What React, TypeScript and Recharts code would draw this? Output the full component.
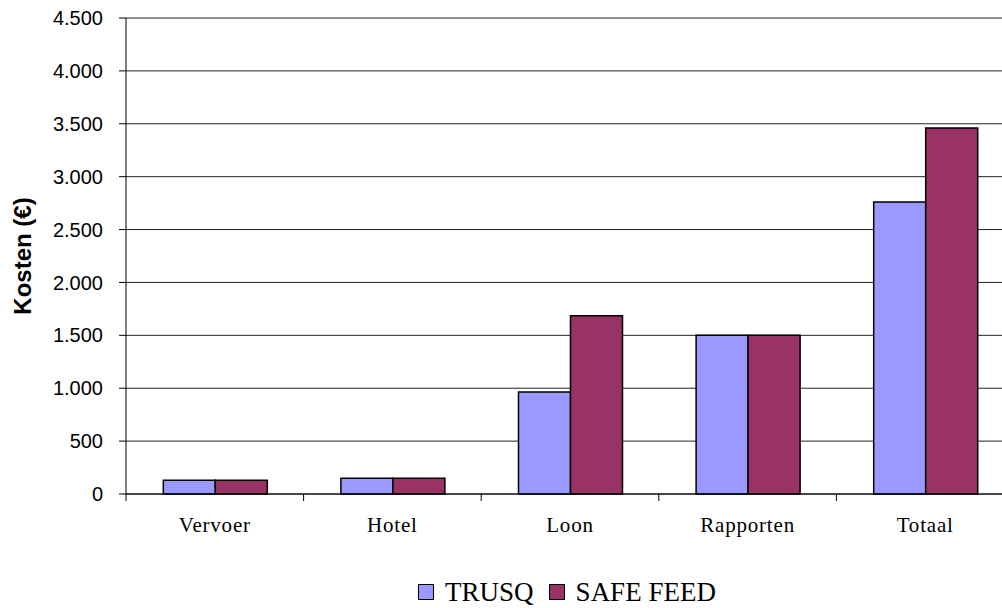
import {
  BarChart,
  Bar,
  XAxis,
  YAxis,
  CartesianGrid,
  Legend,
  Label,
} from "recharts";

const categories = ["Vervoer", "Hotel", "Loon", "Rapporten", "Totaal"];
const seriesNames = ["TRUSQ", "SAFE FEED"];
const trusq = [130, 150, 965, 1500, 2760];
const safeFeed = [130, 150, 1685, 1500, 3460];
const yTicks = [0, 500, 1000, 1500, 2000, 2500, 3000, 3500, 4000, 4500];

const data = categories.map((name, i) => ({
  name,
  TRUSQ: trusq[i],
  "SAFE FEED": safeFeed[i],
}));

const serif = "'Liberation Serif', 'Times New Roman', serif";
const sans = "'Liberation Sans', Arial, sans-serif";

const formatThousands = (v: number) =>
  String(v).replace(/\B(?=(\d{3})+(?!\d))/g, ".");

const XTick = ({
  x,
  y,
  payload,
  index,
  visibleTicksCount,
}: {
  x?: number;
  y?: number;
  payload?: any;
  index?: number;
  visibleTicksCount?: number;
}) => {
  const half = payload?.offset ?? 0;
  const cx = x ?? 0;
  const cy = y ?? 0;
  const last = index === (visibleTicksCount ?? 0) - 1;
  return (
    <g>
      <line x1={cx - half} x2={cx - half} y1={cy} y2={cy + 7} stroke="#000" />
      {last && (
        <line x1={cx + half} x2={cx + half} y1={cy} y2={cy + 7} stroke="#000" />
      )}
      <text
        x={cx}
        y={cy + 38}
        textAnchor="middle"
        fill="#000"
        fontFamily={serif}
        fontSize={21}
        letterSpacing={0.8}
      >
        {payload?.value}
      </text>
    </g>
  );
};

const LegendContent = ({ payload }: { payload?: any[] }) => {
  const items = [...(payload ?? [])].sort(
    (a, b) => seriesNames.indexOf(a.value) - seriesNames.indexOf(b.value)
  );
  return (
    <div
      style={{
        height: 40,
        boxSizing: "border-box",
        paddingTop: 8,
        display: "flex",
        justifyContent: "center",
        alignItems: "center",
        fontFamily: serif,
        fontSize: 27,
        color: "#000",
        whiteSpace: "nowrap",
      }}
    >
      {items.map((entry, i) => (
        <div
          key={i}
          style={{ display: "flex", alignItems: "center", marginLeft: i ? 15 : 0 }}
        >
          <span
            style={{
              display: "inline-block",
              width: 14,
              height: 14,
              background: entry.color,
              border: "1px solid #000",
              marginRight: 11,
            }}
          />
          <span>{entry.value}</span>
        </div>
      ))}
    </div>
  );
};

export default function App() {
  return (
    <div
      style={{
        position: "absolute",
        left: 0,
        top: 0,
        width: 1002,
        height: 608,
        overflow: "hidden",
        background: "#fff",
      }}
    >
      <BarChart
        width={1016}
        height={608}
        data={data}
        margin={{ top: 18, right: 2, left: 0, bottom: 0 }}
        barCategoryGap="21%"
        barGap={0}
      >
        <CartesianGrid vertical={false} stroke="#222" strokeWidth={1} />
        <XAxis
          dataKey="name"
          height={74}
          tickSize={0}
          tickMargin={0}
          tickLine={false}
          axisLine={{ stroke: "#000" }}
          tick={<XTick />}
          interval={0}
        />
        <YAxis
          width={126}
          domain={[0, 4500]}
          ticks={yTicks}
          interval={0}
          tickSize={7}
          tickMargin={16}
          tickFormatter={formatThousands}
          axisLine={{ stroke: "#000" }}
          tickLine={{ stroke: "#000" }}
          tick={{ fill: "#000", fontFamily: sans, fontSize: 20 }}
        >
          <Label
            value="Kosten (€)"
            angle={-90}
            position="insideLeft"
            offset={22}
            style={{
              textAnchor: "middle",
              fontFamily: sans,
              fontWeight: "bold",
              fontSize: 24,
              fill: "#000",
            }}
          />
        </YAxis>
        <Legend
          verticalAlign="bottom"
          content={<LegendContent />}
          wrapperStyle={{ left: 126, width: 882 }}
        />
        <Bar
          dataKey="TRUSQ"
          fill="#9999FF"
          stroke="#000"
          strokeWidth={1.5}
          isAnimationActive={false}
        />
        <Bar
          dataKey="SAFE FEED"
          fill="#993366"
          stroke="#000"
          strokeWidth={1.5}
          isAnimationActive={false}
        />
      </BarChart>
    </div>
  );
}
